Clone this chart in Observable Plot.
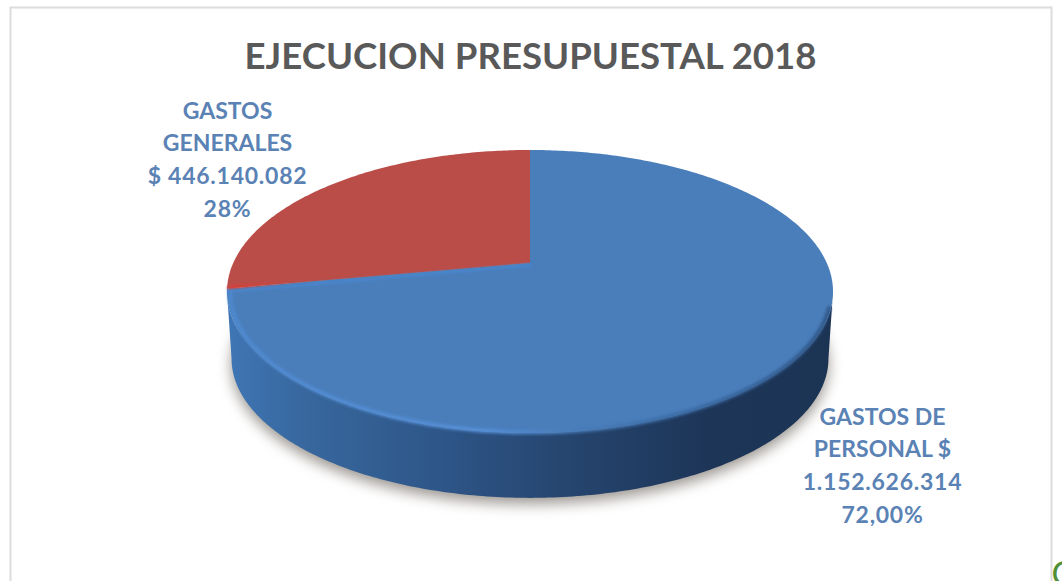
<!DOCTYPE html>
<html lang="es">
<head>
<meta charset="utf-8">
<title>Ejecución presupuestal 2018</title>
<script src="https://cdn.jsdelivr.net/npm/d3@7"></script>
<script src="https://cdn.jsdelivr.net/npm/@observablehq/plot@0.6"></script>
<style>
  html, body { margin: 0; background: #fff; }
  svg { display: block; }
  .figures text { letter-spacing: 0.75px; }
</style>
</head>
<body>
<div id="chart"></div>
<script>
// Budget execution figures
const categories = ["GASTOS DE PERSONAL", "GASTOS GENERALES"];
const amounts = [1152626314, 446140082];
const wordLines = [["GASTOS DE", "PERSONAL $"], ["GASTOS", "GENERALES"]];
const figureLines = [["1.152.626.314", "72,00%"], ["$ 446.140.082", "28%"]];
const labelX = [882, 227];
const labelTop = [417, 111];
const LINE_STEP = 32.6;
const sliceColors = ["#4a7ebb", "#bb4d49"];

const W = 1062, H = 581;

// Perspective projection of the unit disc: v runs from the back (-1) to the front (+1)
const CX = 530, APEX_Y = 263, SPREAD = 296.8, TILT = -0.2014, RISE = 82.8;
const project = (u, v) => {
  const k = 1 + TILT * v;
  return [CX + (u * SPREAD) / k, (RISE * v + APEX_Y) / k];
};
const rim = (a) => project(Math.sin(a), -Math.cos(a));

// Lower face of the disc: the rim slightly shrunk and pushed down by the thickness
const MID_Y = 291.5, SHRINK = 0.985, DEPTH = 67;
const lowerRim = (a) => {
  const [x, y] = rim(a);
  return [CX + (x - CX) * SHRINK, MID_Y + (y - MID_Y) * SHRINK + DEPTH];
};

const range = (a0, a1, step = Math.PI / 240) => {
  const n = Math.ceil(Math.abs(a1 - a0) / step);
  return d3.range(n + 1).map((i) => a0 + ((a1 - a0) * i) / n);
};
const deg = (d) => (d * Math.PI) / 180;

// Top-face slices, clockwise from twelve o'clock
const total = d3.sum(amounts);
const [apexX, apexY] = project(0, 0);
const slices = [];
let start = 0;
categories.forEach((name, i) => {
  const end = start + (2 * Math.PI * amounts[i]) / total;
  for (const a of range(start, end)) {
    const [x, y] = rim(a);
    slices.push({name, x, y});
  }
  start = end;
});
const splitAngle = (2 * Math.PI * amounts[0]) / total;

// Visible front of the disc, between the two silhouette tangents
const wall = range(deg(101.6), deg(258.4)).map((a) => {
  const [x1, y1] = rim(a);
  const [x2, y2] = lowerRim(a);
  return {x1, y1, x2, y2};
});

const bottomFace = range(0, 2 * Math.PI).map((a) => {
  const [x, y] = lowerRim(a);
  return {x, y: y + 6};
});

// Edge bevel, inset a little from the rim
const bevel = range(deg(108), splitAngle).map((a) => {
  const [x, y] = rim(a);
  const f = 0.992;
  return {x: CX + (x - CX) * f, y: MID_Y + (y - MID_Y) * f};
});
const splitEnd = rim(splitAngle);
const splitBevel = [
  {x: splitEnd[0] + 2, y: splitEnd[1] + 2},
  {x: apexX, y: apexY + 1.5}
];
const redEdge = [
  {x: splitEnd[0] + 1, y: splitEnd[1] - 1.5},
  {x: splitEnd[0] + 90, y: splitEnd[1] - 9.5}
];

// Gradients used by the wall and the bevel
const gradients = () => {
  const defs = d3.create("svg:defs");
  const add = (id, stops) => {
    const g = defs.append("linearGradient").attr("id", id)
      .attr("x1", 0).attr("x2", 1).attr("y1", 0).attr("y2", 0);
    stops.forEach(([o, c, a = 1]) =>
      g.append("stop").attr("offset", o).attr("stop-color", c).attr("stop-opacity", a));
  };
  add("wallShade", [[0, "#3f76b5"], [0.12, "#38689f"], [0.35, "#2e5688"], [0.55, "#264670"], [0.8, "#1d3557"], [1, "#1c3454"]]);
  add("bevelShade", [[0, "#4f8ad0"], [0.42, "#5790d8"], [0.56, "#4a7ebb"], [0.75, "#3a6aa3"], [1, "#2f5687"]]);
  add("redShade", [[0, "#e03c30"], [1, "#bb4d49", 0]]);
  return defs.node();
};

const words = wordLines.flatMap((lines, c) =>
  lines.map((text, i) => ({text, c, i})));
const figures = figureLines.flatMap((lines, c) =>
  lines.map((text, i) => ({text, c, i: i + wordLines[c].length})));
const labelMark = (data, extra = {}) => Plot.text(data, {
  x: (d) => labelX[d.c],
  y: (d) => labelTop[d.c] + d.i * LINE_STEP,
  text: "text",
  fontFamily: "Lato", fontWeight: 700, fontSize: 23, fill: "#5a82b4",
  ...extra
});

const chart = Plot.plot({
  width: W,
  height: H,
  margin: 0,
  x: {domain: [0, W], range: [0, W], axis: null},
  y: {domain: [0, H], range: [0, H], axis: null},
  color: {domain: categories, range: sliceColors},
  marks: [
    gradients,
    Plot.frame({stroke: "#dcdcdc", strokeWidth: 2, insetLeft: 10, insetTop: 7, insetRight: 11, insetBottom: -10}),
    // Soft shadow under the disc
    Plot.area(bottomFace, {x1: () => CX, y1: () => MID_Y + DEPTH, x2: "x", y2: "y", fill: "#8a847e", fillOpacity: 0.85, imageFilter: "blur(7px)"}),
    Plot.area(wall, {x1: "x1", y1: "y1", x2: "x2", y2: "y2", fill: "url(#wallShade)"}),
    // Top face
    Plot.area(slices, {x1: () => apexX, y1: () => apexY, x2: "x", y2: "y", fill: "name"}),
    Plot.line(bevel, {x: "x", y: "y", stroke: "url(#bevelShade)", strokeWidth: 4, imageFilter: "blur(1.5px)"}),
    Plot.line(splitBevel, {x: "x", y: "y", stroke: "#4a86cc", strokeWidth: 3, imageFilter: "blur(1px)"}),
    Plot.line(redEdge, {x: "x", y: "y", stroke: "url(#redShade)", strokeWidth: 3, imageFilter: "blur(1px)"}),
    Plot.text(["EJECUCION PRESUPUESTAL 2018"], {
      x: () => 530, y: () => 57, text: (d) => d,
      fontFamily: "Lato", fontWeight: 700, fontSize: 36.6, fill: "#595959"
    }),
    labelMark(words),
    labelMark(figures, {className: "figures"}),
    Plot.text(["C"], {
      x: () => 1051, y: () => 575, text: (d) => d, textAnchor: "start",
      fontFamily: "Lato", fontSize: 34, fill: "#4f8f35"
    })
  ]
});
document.getElementById("chart").append(chart);
</script>
</body>
</html>
